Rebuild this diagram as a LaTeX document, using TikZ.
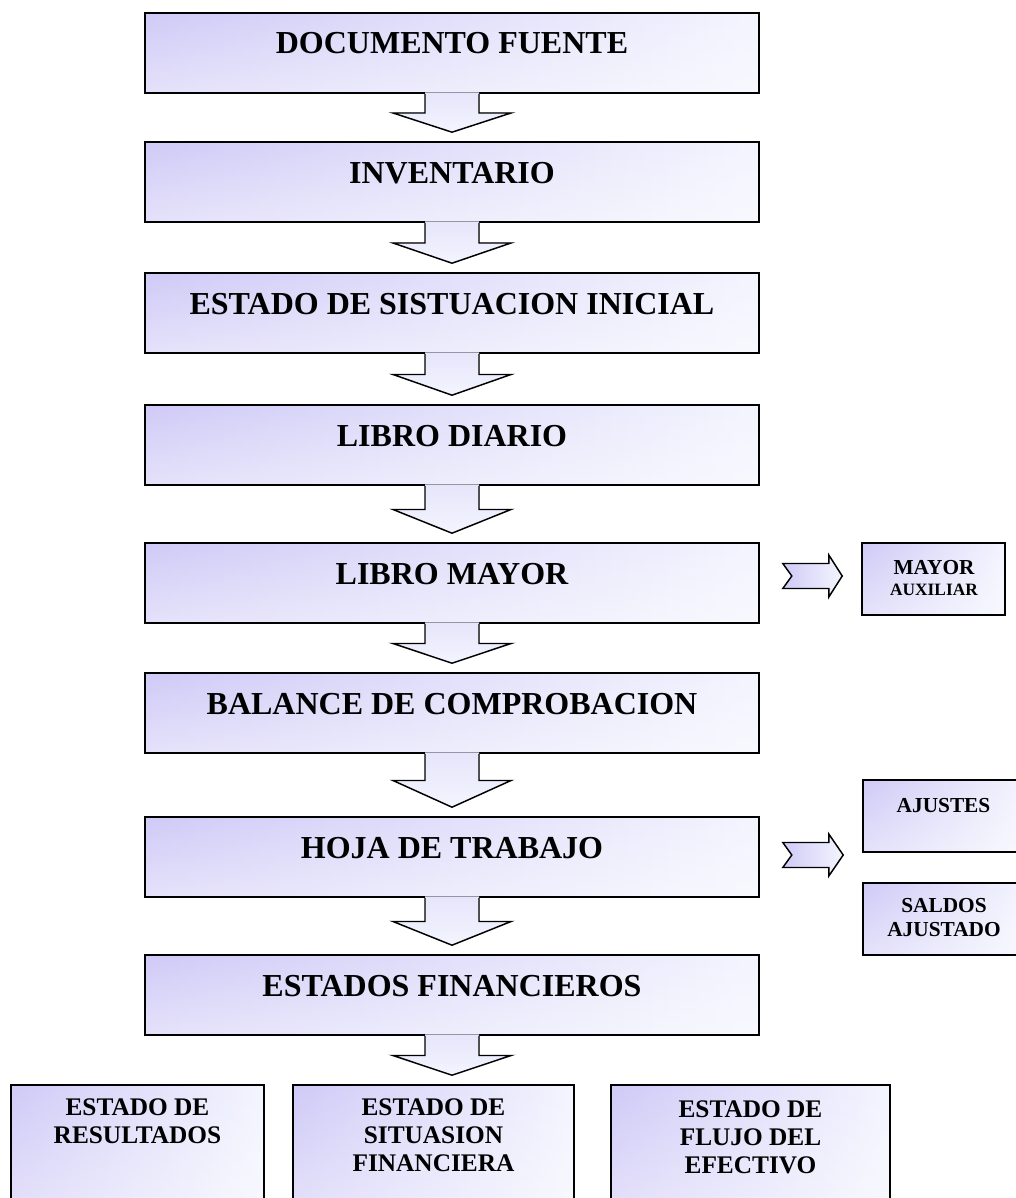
\documentclass[tikz,border=0pt]{standalone}
\usepackage{fontspec}
\setmainfont{Liberation Serif}
\usetikzlibrary{calc,fadings}
\definecolor{lavL}{RGB}{208,202,247}
\definecolor{lavR}{RGB}{243,245,254}
\definecolor{arrT}{RGB}{230,229,251}
\definecolor{arrB}{RGB}{243,245,254}
\tikzset{
  gbox/.style={rectangle, draw=black, line width=1.2pt, inner sep=0pt,
    left color=lavL, right color=lavR,
    path picture={\fill[white, path fading=north, fill opacity=0.45]
      (path picture bounding box.south west) rectangle (path picture bounding box.north east);}},
  mainbox/.style={gbox, minimum width=460.5pt, minimum height=60pt},
  maintext/.style={anchor=base, inner sep=0pt, font=\fontsize{24}{26}\selectfont\bfseries},
  bottext/.style={anchor=north, inner sep=0pt, align=center, font=\fontsize{19}{21}\selectfont\bfseries},
  sidetext/.style={inner sep=0pt, align=center, font=\fontsize{16}{17}\selectfont\bfseries},
  arrowfill/.style={top color=arrT, bottom color=arrB, draw=none},
  arrowline/.style={draw=black, line width=1.1pt, line join=miter},
  rarrow/.style={left color=lavL, right color=lavR, draw=black, line width=1.1pt, line join=miter}
}
\newcommand\blockdown[2]{%
  \coordinate (tq) at (#1.south|-#2.north);
  \coordinate (tp) at ($(tq)+(0,-9)$);
  \coordinate (wm) at ($(#1.south)!0.5!(tp)$);
  \fill[arrowfill] ($(#1.south)+(-27,-1.5)$) -- ($(wm)+(-27,0)$) -- ($(wm)+(-59,0)$) -- (tp)
     -- ($(wm)+(59,0)$) -- ($(wm)+(27,0)$) -- ($(#1.south)+(27,-1.5)$) -- cycle;
  \draw[arrowline] ($(#1.south)+(-27,0)$) -- ($(wm)+(-27,0)$) -- ($(wm)+(-59,0)$) -- (tp)
     -- ($(wm)+(59,0)$) -- ($(wm)+(27,0)$) -- ($(#1.south)+(27,0)$);}
\newcommand\blockright[3]{%
  \coordinate (rc) at ($(#1.east)+(23,#3)$);
  \coordinate (rt) at ($(#2.west)+(-19,0)$);
  \draw[rarrow] ($(rc)+(0,-12.5)$) -- ++(46,0) -- ++(0,-8.5) -- (rt|-rc)
     -- ($(rc)+(46,21)$) -- ++(0,-8.5) -- ++(-46,0) -- ($(rc)+(9,0)$) -- cycle;}
\begin{document}
\begin{tikzpicture}[x=0.75pt, y=-0.75pt]
\useasboundingbox (0,0) rectangle (1016,1198);
\clip (0,0) rectangle (1016,1198);
% main boxes
\node[mainbox] (b1) at (452,53) {};
\node[mainbox] (b2) at (452,182) {};
\node[mainbox] (b3) at (452,313) {};
\node[mainbox] (b4) at (452,445) {};
\node[mainbox] (b5) at (452,583) {};
\node[mainbox] (b6) at (452,713) {};
\node[mainbox] (b7) at (452,857) {};
\node[mainbox] (b8) at (452,995) {};
% side boxes
\node[gbox, minimum width=107.25pt, minimum height=54pt] (aux) at (933.5,579) {};
\node[gbox, minimum width=120.75pt, minimum height=54pt] (aju) at (943.5,816) {};
\node[gbox, minimum width=120.75pt, minimum height=54pt] (sal) at (943.5,919) {};
% bottom boxes
\node[gbox, minimum width=189.75pt, minimum height=97.5pt] (r1) at (137.5,1150) {};
\node[gbox, minimum width=210.75pt, minimum height=97.5pt] (r2) at (433.5,1150) {};
\node[gbox, minimum width=209.25pt, minimum height=97.5pt] (r3) at (750.5,1150) {};
% texts
\node[maintext] (t1) at ($(b1.north)+(0,41)$) {DOCUMENTO FUENTE};
\node[maintext] (t2) at ($(b2.north)+(0,42)$) {INVENTARIO};
\node[maintext] (t3) at ($(b3.north)+(0,42)$) {ESTADO DE SISTUACION INICIAL};
\node[maintext] (t4) at ($(b4.north)+(0,42)$) {LIBRO DIARIO};
\node[maintext] (t5) at ($(b5.north)+(0,42)$) {LIBRO MAYOR};
\node[maintext] (t6) at ($(b6.north)+(0,42)$) {BALANCE DE COMPROBACION};
\node[maintext] (t7) at ($(b7.north)+(0,42)$) {HOJA DE TRABAJO};
\node[maintext] (t8) at ($(b8.north)+(0,42)$) {ESTADOS FINANCIEROS};
\node[sidetext, anchor=north] (taux) at (934,560) {MAYOR\\[-1pt]{\fontsize{13}{14}\selectfont AUXILIAR}};
\node[sidetext, anchor=base] (taju) at (943.5,812) {AJUSTES};
\node[sidetext, anchor=north, font=\fontsize{16}{18}\selectfont\bfseries] (tsal) at (944,898) {SALDOS\\AJUSTADO};
\node[bottext] (tr1) at (137.5,1098) {ESTADO DE\\RESULTADOS};
\node[bottext] (tr2) at (433.5,1098) {ESTADO DE\\SITUASION\\FINANCIERA};
\node[bottext] (tr3) at (750.5,1100) {ESTADO DE\\FLUJO DEL\\EFECTIVO};
% arrows
\blockdown{b1}{b2}
\blockdown{b2}{b3}
\blockdown{b3}{b4}
\blockdown{b4}{b5}
\blockdown{b5}{b6}
\blockdown{b6}{b7}
\blockdown{b7}{b8}
\blockdown{b8}{r2}
\blockright{b5}{aux}{-7}
\blockright{b7}{aju}{-2}
\end{tikzpicture}
\end{document}
